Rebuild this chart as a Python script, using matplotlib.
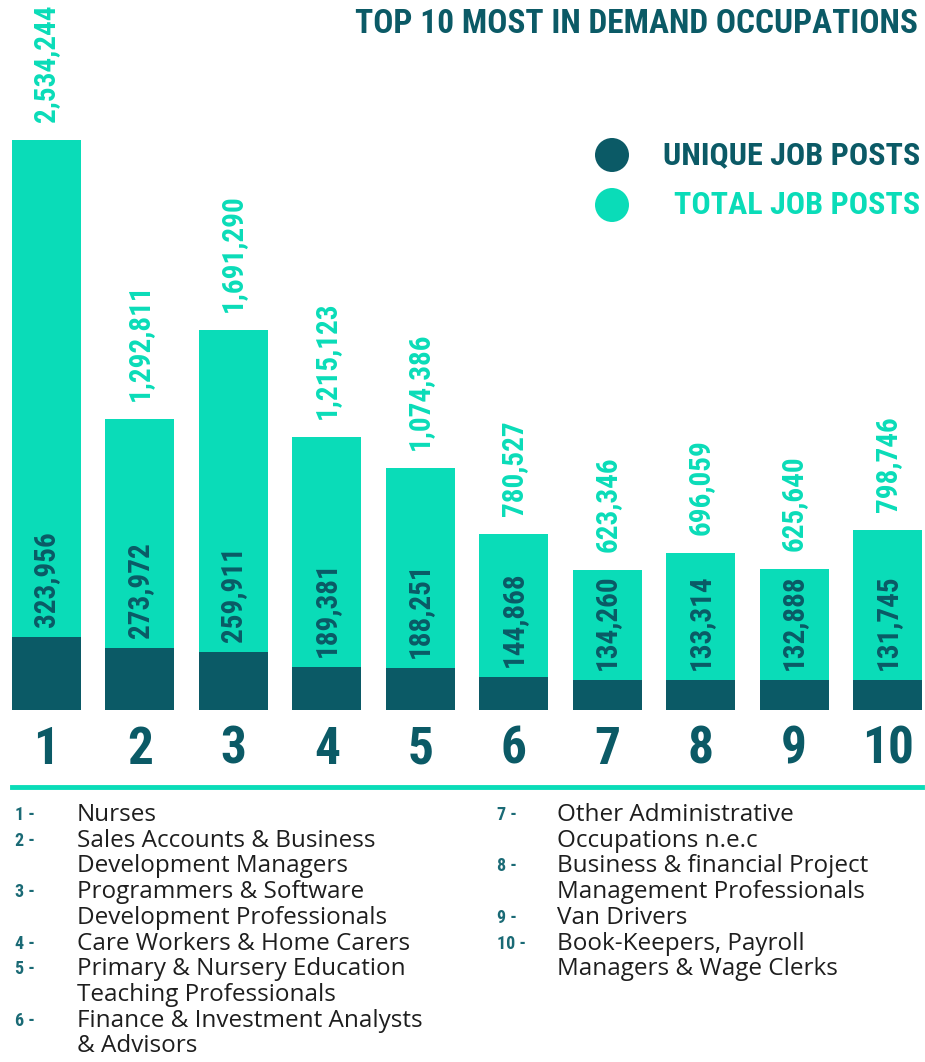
import matplotlib
matplotlib.use("Agg")
import matplotlib.pyplot as plt
from matplotlib import font_manager as fm
from matplotlib.patches import Ellipse

ranks = ["1", "2", "3", "4", "5", "6", "7", "8", "9", "10"]
total_posts = [2534244, 1292811, 1691290, 1215123, 1074386, 780527, 623346, 696059, 625640, 798746]
unique_posts = [323956, 273972, 259911, 189381, 188251, 144868, 134260, 133314, 132888, 131745]
occupations = [
    "Nurses",
    "Sales Accounts & Business\nDevelopment Managers",
    "Programmers & Software\nDevelopment Professionals",
    "Care Workers & Home Carers",
    "Primary & Nursery Education\nTeaching Professionals",
    "Finance & Investment Analysts\n& Advisors",
    "Other Administrative\nOccupations n.e.c",
    "Business & financial Project\nManagement Professionals",
    "Van Drivers",
    "Book-Keepers, Payroll\nManagers & Wage Clerks",
]
title = "TOP 10 MOST IN DEMAND OCCUPATIONS"
legend_labels = ["UNIQUE JOB POSTS", "TOTAL JOB POSTS"]

DARK = "#0b5a66"
TEAL = "#0adcb8"

avail = {f.name for f in fm.fontManager.ttflist}
cond = "DejaVu Sans"
for cand in ["Roboto Condensed", "Liberation Sans Narrow", "DejaVu Sans Condensed", "Open Sans Condensed"]:
    if cand in avail:
        cond = cand
        break
body = "Open Sans" if "Open Sans" in avail else "DejaVu Sans"

W, H = 925, 1062
fig = plt.figure(figsize=(W / 100, H / 100), dpi=100)

bar_w = 0.735
left_px, right_px = 12, 922
bottom_px, top_px = 710, 0
ax = fig.add_axes([left_px / W, 1 - bottom_px / H, (right_px - left_px) / W, (bottom_px - top_px) / H])
x = list(range(len(ranks)))
ymax = total_posts[0] * 710 / 570
ax.set_xlim(-bar_w / 2, len(ranks) - 1 + bar_w / 2)
ax.set_ylim(0, ymax)
ax.axis("off")

ax.bar(x, total_posts, width=bar_w, color=TEAL, linewidth=0)
ax.bar(x, unique_posts, width=bar_w, color=DARK, linewidth=0)

px = ymax / 710
for i in x:
    ax.text(i, total_posts[i] + 18 * px, f"{total_posts[i]:,}", rotation=90, ha="center", va="bottom",
            color=TEAL, fontsize=21, fontweight="bold", family=cond, fontstretch="condensed")
    ax.text(i, unique_posts[i] + 10 * px, f"{unique_posts[i]:,}", rotation=90, ha="center", va="bottom",
            color=DARK, fontsize=21, fontweight="bold", family=cond, fontstretch="condensed")
    ax.text(i, -40 * px, ranks[i], ha="center", va="center", color=DARK, fontsize=37,
            fontweight="bold", family=cond, fontstretch="condensed", clip_on=False)

# separator line
fig.add_artist(plt.Line2D([12 / W, 922 / W], [1 - 787 / H, 1 - 787 / H], color=TEAL, lw=3.5))

# title
fig.text(918 / W, 1 - 24 / H, title, ha="right", va="center", color=DARK, fontsize=24,
         fontweight="bold", family=cond, fontstretch="condensed")

# legend
for lab, col, yy in zip(legend_labels, [DARK, TEAL], [155, 205]):
    fig.add_artist(Ellipse((612 / W, 1 - yy / H), 34 / W, 34 / H, transform=fig.transFigure,
                           facecolor=col, edgecolor="none"))
    fig.text(920 / W, 1 - yy / H, lab, ha="right", va="center", color=col, fontsize=23,
             fontweight="bold", family=cond, fontstretch="condensed")

# occupation list
line_h = 25.7
col_specs = [(15, 77, 815, range(0, 6)), (497, 557, 815, range(6, 10))]
for nx, tx, y0, idxs in col_specs:
    y = y0
    for i in idxs:
        fig.text(nx / W, 1 - y / H, f"{ranks[i]} -", ha="left", va="center", color="#1a6a75",
                 fontsize=13, fontweight="bold", family=cond)
        for ln in occupations[i].split("\n"):
            fig.text(tx / W, 1 - y / H, ln, ha="left", va="center", color="#1e1e1e",
                     fontsize=17.5, family=body)
            y += line_h

fig.savefig("out.png", dpi=100)
